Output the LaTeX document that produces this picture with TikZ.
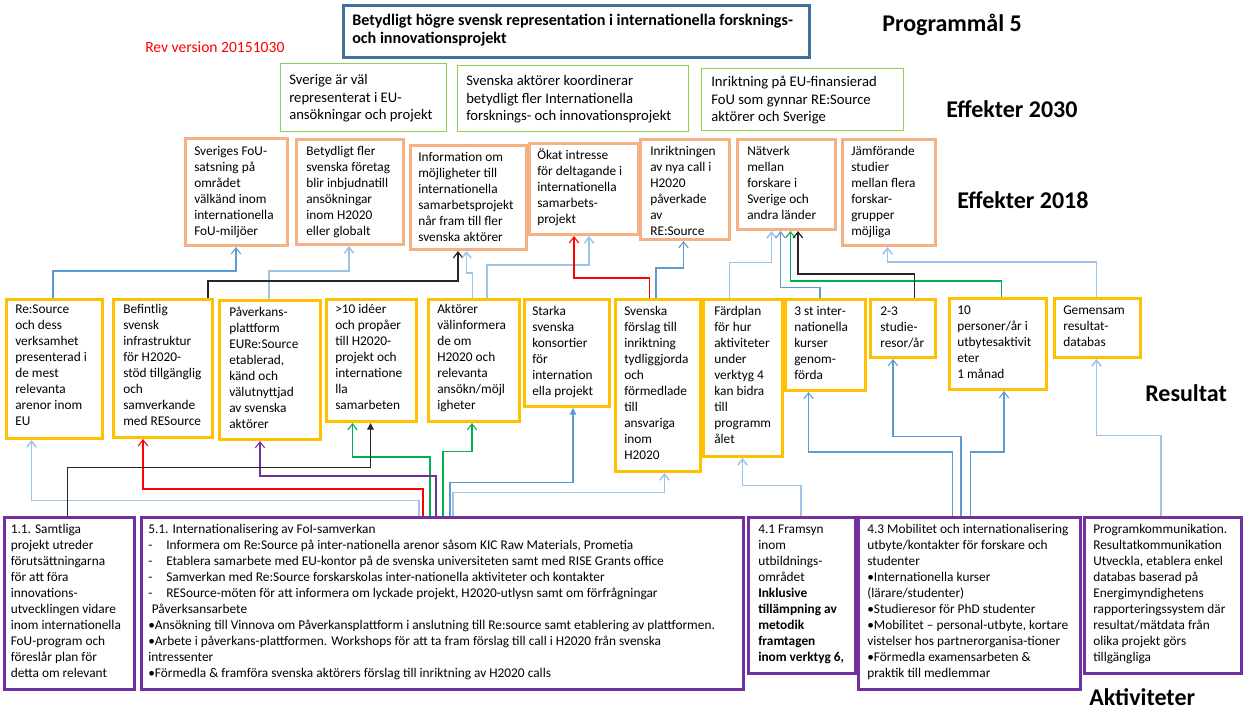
\documentclass[tikz,border=0pt]{standalone}
\usepackage{fontspec}
\setmainfont{Carlito}
\usetikzlibrary{arrows.meta}
\definecolor{steel}{RGB}{65,113,156}
\definecolor{grn}{RGB}{146,208,80}
\definecolor{org}{RGB}{244,177,131}
\definecolor{yel}{RGB}{255,192,0}
\definecolor{pur}{RGB}{112,48,160}
\definecolor{lblue}{RGB}{157,195,230}
\definecolor{mblue}{RGB}{91,155,213}
\definecolor{lgreen}{RGB}{0,176,80}
\newcommand\tl[1]{\begin{tabular}[t]{@{}l@{}}#1\end{tabular}}
\newcommand\Bx[6]{\node[#1, minimum width={(#5-#3)*0.75pt}, minimum height={(#6-#4)*0.75pt}] (#2) at (#3,#4) {};}
\newcommand\Cn[6]{\draw[#1] (#2,0 |- #3) |- (#5,#4) -- (#5,0 |- #6);}
\newcommand\dsh{\makebox[13.5pt][l]{-}}
\tikzset{
  boxbase/.style={inner sep=0pt, anchor=north west},
  tbox/.style={boxbase, draw=steel, line width=2.25pt},
  gbox/.style={boxbase, draw=grn, line width=1.1pt},
  obox/.style={boxbase, draw=org, line width=2.25pt},
  ybox/.style={boxbase, draw=yel, line width=2.25pt},
  pbox/.style={boxbase, draw=pur, line width=2.25pt},
  txt/.style={inner sep=0pt, anchor=base west, font=\fontsize{10}{12}\selectfont},
  gtxt/.style={txt, font=\fontsize{11}{13.3}\selectfont},
  ttxt/.style={txt, font=\fontsize{12.1}{13.6}\selectfont\bfseries},
  head/.style={inner sep=0pt, anchor=base west, font=\fontsize{18}{22}\selectfont\bfseries},
  opentip/.style={-{Straight Barb[length=4.5pt,width=7pt]}},
  filltip/.style={-{Triangle[length=5pt,width=5pt]}},
  lnLB/.style={opentip, draw=lblue, line width=1.1pt},
  lnB/.style={opentip, draw=mblue, line width=0.8pt},
  lnR/.style={opentip, draw=red, line width=0.8pt},
  lnG/.style={opentip, draw=lgreen, line width=0.8pt},
  lnP/.style={opentip, draw=pur, line width=0.8pt},
  lnK/.style={opentip, draw=black!85, line width=0.9pt},
  lnKf/.style={filltip, draw=black!85, line width=0.9pt},
  lnBf/.style={filltip, draw=mblue, line width=0.8pt},
}
\begin{document}
\begin{tikzpicture}[x=0.75pt,y=-0.75pt]
\useasboundingbox (0,0) rectangle (1243,726);
\fill[white] (0,0) rectangle (1243,726);

% ---------- boxes ----------
\Bx{tbox}{goal}{342}{4}{808}{56}
\Bx{gbox}{g1}{280}{63}{446}{131}
\Bx{gbox}{g2}{457}{65}{688}{131}
\Bx{gbox}{g3}{701}{68}{903}{130}
\Bx{obox}{e1}{184}{137}{286}{244}
\Bx{obox}{e2}{295}{138}{402}{243}
\Bx{obox}{e3}{409}{144}{525}{248}
\Bx{obox}{e4}{528}{142}{637}{233}
\Bx{obox}{e5}{639}{138}{728}{238}
\Bx{obox}{e6}{736}{138}{834}{228}
\Bx{obox}{e7}{841}{138}{934}{244}
\Bx{ybox}{r1}{5}{298}{101}{437}
\Bx{ybox}{r2}{112}{298}{211}{436}
\Bx{ybox}{r3}{218}{299}{319}{438}
\Bx{ybox}{r4}{325}{298}{415}{420}
\Bx{ybox}{r5}{427}{298}{518}{420}
\Bx{ybox}{r6}{523}{298}{608}{405}
\Bx{ybox}{r7}{614}{298}{699}{470}
\Bx{ybox}{r8}{702}{298}{781}{455}
\Bx{ybox}{r9}{784}{298}{864}{389}
\Bx{ybox}{r10}{869}{298}{934}{356}
\Bx{ybox}{r11}{948}{297}{1045}{388}
\Bx{ybox}{r12}{1053}{297}{1139}{356}
\Bx{pbox}{a1}{3}{516}{133}{688}
\Bx{pbox}{a2}{140}{516}{742}{688}
\Bx{pbox}{a3}{747}{516}{854}{672}
\Bx{pbox}{a4}{857}{516}{1079}{688}
\Bx{pbox}{a5}{1083}{516}{1240}{672}

% ---------- headings ----------
\node[head] (h1) at (882,31) {Programmål 5};
\node[head] (h2) at (946,117) {Effekter 2030};
\node[head] (h3) at (957,208) {Effekter 2018};
\node[head] (h4) at (1145,401) {Resultat};
\node[head] (h5) at (1089,705.5) {Aktiviteter};
\node[inner sep=0pt, anchor=base west, text=red, font=\fontsize{11.7}{14}\selectfont] (rev) at (145,52) {Rev version 20151030};

% ---------- texts ----------
\node[ttxt] (tgoal) at (352,25) {\tl{Betydligt högre svensk representation i internationella forsknings-\\och innovationsprojekt}};
\node[gtxt] (tg1) at (289,84.5) {\tl{Sverige är väl\\representerat i EU-\\ansökningar och projekt}};
\node[gtxt] (tg2) at (466,85.5) {\tl{Svenska aktörer koordinerar\\betydligt fler Internationella\\forsknings- och innovationsprojekt}};
\node[gtxt] (tg3) at (711,86.5) {\tl{Inriktning på EU-finansierad\\FoU som gynnar RE:Source\\aktörer och Sverige}};

\node[txt] (te1) at (194,155) {\tl{Sveriges FoU-\\satsning på\\området\\välkänd inom\\internationella\\FoU-miljöer}};
\node[txt] (te2) at (306,155) {\tl{Betydligt fler\\svenska företag\\blir inbjudnatill\\ansökningar\\inom H2020\\eller globalt}};
\node[txt] (te3) at (418,161.5) {\tl{Information om\\möjligheter till\\internationella\\samarbetsprojekt\\når fram till fler\\svenska aktörer}};
\node[txt] (te4) at (537,159.5) {\tl{Ökat intresse\\för deltagande i\\internationella\\samarbets-\\projekt}};
\node[txt] (te5) at (650,155.5) {\tl{Inriktningen\\av nya call i\\H2020\\påverkade\\av\\RE:Source}};
\node[txt] (te6) at (747,155.5) {\tl{Nätverk\\mellan\\forskare i\\Sverige och\\andra länder}};
\node[txt] (te7) at (851,155.5) {\tl{Jämförande\\studier\\mellan flera\\forskar-\\grupper\\möjliga}};

\node[txt] (tr1) at (15,313.5) {\tl{Re:Source\\och dess\\verksamhet\\presenterad i\\de mest\\relevanta\\arenor inom\\EU}};
\node[txt] (tr2) at (123,313.5) {\tl{Befintlig\\svensk\\infrastruktur\\för H2020-\\stöd tillgänglig\\och\\samverkande\\med RESource}};
\node[txt] (tr3) at (229,316) {\tl{Påverkans-\\plattform\\EURe:Source\\etablerad,\\känd och\\välutnyttjad\\av svenska\\aktörer}};
\node[txt] (tr4) at (335,313.5) {\tl{>10 idéer\\och propåer\\till H2020-\\projekt och\\internatione\\lla\\samarbeten}};
\node[txt] (tr5) at (437,313.5) {\tl{Aktörer\\välinformera\\de om\\H2020 och\\relevanta\\ansökn/möjl\\igheter}};
\node[txt] (tr6) at (532,315.5) {\tl{Starka\\svenska\\konsortier\\för\\internation\\ella projekt}};
\node[txt] (tr7) at (624,315.5) {\tl{Svenska\\förslag till\\inriktning\\tydliggjorda\\och\\förmedlade\\till\\ansvariga\\inom\\H2020}};
\node[txt] (tr8) at (714,315.5) {\tl{Färdplan\\för hur\\aktiviteter\\under\\verktyg 4\\kan bidra\\till\\programm\\ålet}};
\node[txt] (tr9) at (794,315.5) {\tl{3 st inter-\\nationella\\kurser\\genom-\\förda}};
\node[txt] (tr10) at (880,315.5) {\tl{2-3\\studie-\\resor/år}};
\node[txt] (tr11) at (957,314.5) {\tl{10\\personer/år i\\utbytesaktivit\\eter\\1 månad}};
\node[txt] (tr12) at (1063,314.5) {\tl{Gemensam\\resultat-\\databas}};

\node[txt] (ta1) at (10.5,533.5) {\tl{1.1. Samtliga\\projekt utreder\\förutsättningarna\\för att föra\\innovations-\\utvecklingen vidare\\inom internationella\\FoU-program och\\föreslår plan för\\detta om relevant}};
\node[txt] (ta2) at (148,533.5) {\tl{5.1. Internationalisering av FoI-samverkan\\
\dsh Informera om Re:Source på inter-nationella arenor såsom KIC Raw Materials, Prometia\\
\dsh Etablera samarbete med EU-kontor på de svenska universiteten samt med  RISE Grants office\\
\dsh Samverkan med Re:Source  forskarskolas inter-nationella aktiviteter och kontakter\\
\dsh RESource-möten  för att  informera om lyckade projekt, H2020-utlysn samt om förfrågningar\\
\hspace{2.7pt}Påverksansarbete\\
•Ansökning till Vinnova om Påverkansplattform i anslutning till Re:source samt etablering av plattformen.\\
•Arbete  i påverkans-plattformen. Workshops för att ta fram förslag till call i H2020  från svenska\\
intressenter\\
•Förmedla \&  framföra svenska aktörers förslag till inriktning av H2020 calls}};
\node[txt] (ta3) at (758,533.5) {\tl{4.1 Framsyn\\inom\\utbildnings-\\området\\\textbf{Inklusive}\\\textbf{tillämpning  av}\\\textbf{metodik}\\\textbf{framtagen}\\\textbf{inom verktyg 6,}}};
\node[txt] (ta4) at (867,533.5) {\tl{4.3 Mobilitet och  internationalisering\\utbyte/kontakter  för forskare och\\studenter\\•Internationella kurser\\(lärare/studenter)\\•Studieresor för PhD studenter\\•Mobilitet – personal-utbyte, kortare\\vistelser hos partnerorganisa-tioner\\•Förmedla examensarbeten  \&\\praktik till medlemmar}};
\node[txt] (ta5) at (1093,533.5) {\tl{Programkommunikation.\\Resultatkommunikation\\Utveckla, etablera enkel\\databas baserad på\\Energimyndighetens\\rapporteringssystem där\\resultat/mätdata från\\olika projekt görs\\tillgängliga}};

% ---------- connectors: Resultat -> Effekter 2018 ----------
\Cn{lnB}{53}{r1.north}{271}{236}{e1.south}
\Cn{lnLB}{269}{r3.north}{271}{349}{e2.south}
\Cn{lnK}{208}{r2.north}{281}{458}{e3.south}
\Cn{lnLB}{472.5}{r5.north}{273}{466.5}{e3.south}
\Cn{lnLB}{487}{r5.north}{265}{589}{e4.south}
\Cn{lnR}{649.5}{r7.north}{278}{574}{e4.south}
\Cn{lnB}{656}{r7.north}{268}{683.5}{e5.south}
\Cn{lnLB}{729.5}{r8.north}{262.5}{771.5}{e6.south}
\Cn{lnB}{820}{r9.north}{287.5}{780.5}{e6.south}
\Cn{lnG}{1001.5}{r11.north}{281}{790.5}{e6.south}
\Cn{lnK}{914.5}{r10.north}{274}{798}{e6.south}
\Cn{lnLB}{1096.5}{r12.north}{262}{887.5}{e7.south}

% ---------- connectors: Aktiviteter -> Resultat ----------
\Cn{lnLB}{419}{a2.north}{500.7}{31.5}{r1.south}
\Cn{lnR}{423}{a2.north}{489}{143}{r2.south}
\Cn{lnG}{430}{a2.north}{457}{352.5}{r4.south}
\Cn{lnP}{436}{a2.north}{476}{260}{r3.south}
\Cn{lnKf}{67.5}{a1.north}{467.7}{370.5}{r4.south}
\Cn{lnG}{443}{a2.north}{451.7}{472}{r5.south}
\Cn{lnBf}{450}{a2.north}{482.7}{573}{r6.south}
\Cn{lnLB}{453}{a2.north}{492.7}{664.5}{r7.south}
\Cn{lnLB}{801}{a3.north}{485.5}{742.5}{r8.south}
\Cn{lnB}{952.5}{a4.north}{452}{808.5}{r9.south}
\Cn{lnB}{961}{a4.north}{436.5}{893}{r10.south}
\Cn{lnB}{970.5}{a4.north}{452}{1004}{r11.south}
\Cn{lnLB}{1161}{a5.north}{435.7}{1096.5}{r12.south}
\end{tikzpicture}
\end{document}
